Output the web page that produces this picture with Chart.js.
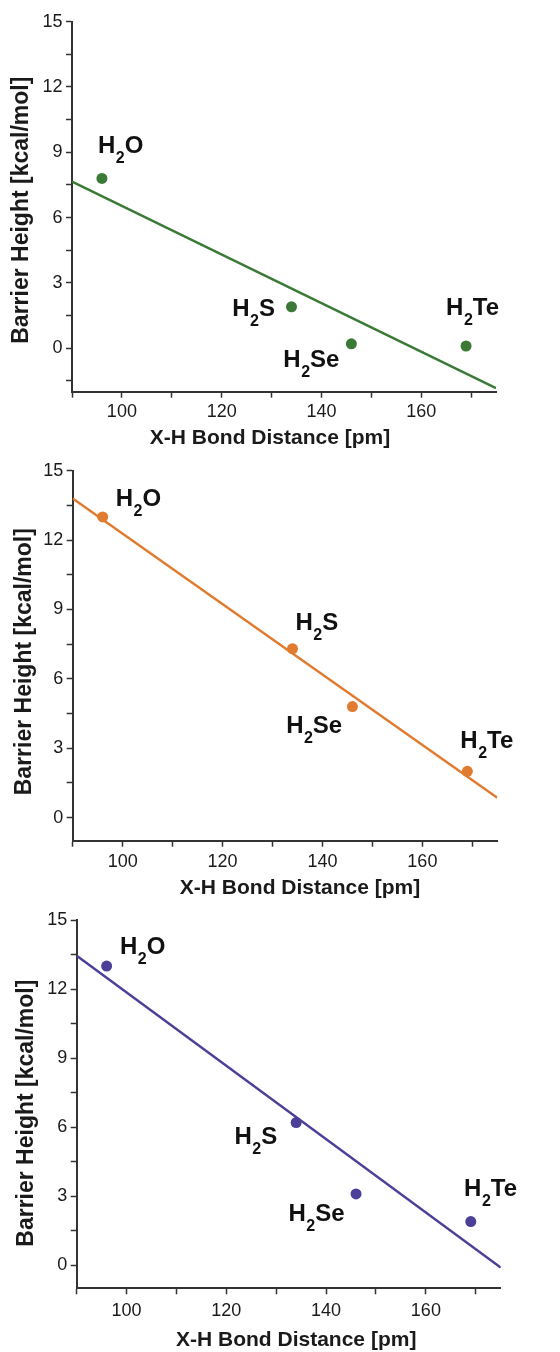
<!DOCTYPE html>
<html>
<head>
<meta charset="utf-8">
<script src="https://cdn.jsdelivr.net/npm/chart.js@4.4.0/dist/chart.umd.min.js"></script>
<style>
  html, body { margin: 0; padding: 0; background: #ffffff; overflow: hidden; }
  .panel { position: absolute; left: 0; width: 560px; }
</style>
</head>
<body>
<div class="panel" style="top:0px;height:450px;"><canvas id="c1"></canvas></div>
<div class="panel" style="top:450px;height:450px;"><canvas id="c2"></canvas></div>
<div class="panel" style="top:900px;height:452px;"><canvas id="c3"></canvas></div>
<script>
// ---------------- data ----------------
const molecules = ['H2O', 'H2S', 'H2Se', 'H2Te'];
const bondDistance = [96, 134, 146, 169];            // X-H bond distance [pm]
const barrierTop = [7.8, 1.9, 0.2, 0.1];             // panel 1 (green)
const barrierMiddle = [13.0, 7.3, 4.8, 2.0];         // panel 2 (orange)
const barrierBottom = [13.0, 6.2, 3.1, 1.9];         // panel 3 (purple)
const fitX = [90, 175];
const fitTop = [7.65, -1.84];
const fitMiddle = [13.8, 0.86];
const fitBottom = [13.45, -0.1];
const xTickValues = [90, 100, 110, 120, 130, 140, 150, 160, 170];
const xTickLabels = [100, 120, 140, 160];
const yTickValuesTop = [-1.5, 0, 1.5, 3, 4.5, 6, 7.5, 9, 10.5, 12, 13.5, 15];
const yTickValuesRest = [0, 1.5, 3, 4.5, 6, 7.5, 9, 10.5, 12, 13.5, 15];
const yTickLabels = [0, 3, 6, 9, 12, 15];
const xTitle = 'X-H Bond Distance [pm]';
const yTitle = 'Barrier Height [kcal/mol]';

// ---------------- styling / layout ----------------
const FONT = "'Liberation Sans', Arial, Helvetica, sans-serif";
const panels = [
  {
    id: 'c1', values: barrierTop, fit: fitTop, color: '#3b7a36',
    yMin: -2, yMax: 15, yTicks: yTickValuesTop,
    pad: { left: 10.5, right: 64, top: 21.7, bottom: 1.5 },
    yWidth: 61.5, xHeight: 56.8, xTickPad: 3.2,
    xTitleShift: -14, yTitleShift: 3.5,
    labelOffsets: [[-4, -25.7], [-59.3, 9], [-68, 22.7], [-20, -30.7]]
  },
  {
    id: 'c2', values: barrierMiddle, fit: fitMiddle, color: '#e07b30',
    yMin: -1, yMax: 15, yTicks: yTickValuesRest,
    pad: { left: 13.5, right: 62.7, top: 20.7, bottom: 1.5 },
    yWidth: 59.2, xHeight: 57.8, xTickPad: 4.2,
    xTitleShift: 15, yTitleShift: 6,
    labelOffsets: [[13, -11], [3, -18.3], [-66.3, 26], [-7, -23.4]]
  },
  {
    id: 'c3', values: barrierBottom, fit: fitBottom, color: '#4b3f98',
    yMin: -1, yMax: 15, yTicks: yTickValuesRest,
    pad: { left: 15.2, right: 59.3, top: 20, bottom: 0.8 },
    yWidth: 61.5, xHeight: 62.9, xTickPad: 5.6,
    xTitleShift: 7.5, yTitleShift: 9,
    labelOffsets: [[13.3, -11.7], [-61.7, 21], [-67.6, 26.7], [-6.7, -26]]
  }
];

function makeLabelPlugin(p) {
  return {
    id: 'molLabels',
    beforeDraw(chart) {
      // shift axis titles slightly off-centre, as in the reference figure
      const shifts = { x: [p.xTitleShift, 0], y: [0, p.yTitleShift] };
      ['x', 'y'].forEach(k => {
        const s = chart.scales[k];
        if (s && !s._titleShifted) {
          const orig = s.drawTitle;
          s.drawTitle = function () {
            const ctx = this.ctx;
            ctx.save();
            ctx.translate(shifts[k][0], shifts[k][1]);
            orig.apply(this, arguments);
            ctx.restore();
          };
          s._titleShifted = true;
        }
      });
    },
    afterDatasetsDraw(chart) {
      const ctx = chart.ctx;
      const xs = chart.scales.x, ys = chart.scales.y;
      ctx.save();
      ctx.fillStyle = '#111111';
      ctx.textBaseline = 'alphabetic';
      ctx.textAlign = 'left';
      molecules.forEach((m, i) => {
        let x = xs.getPixelForValue(bondDistance[i]) + p.labelOffsets[i][0];
        const y = ys.getPixelForValue(p.values[i]) + p.labelOffsets[i][1];
        const head = m.charAt(0), sub = m.charAt(1), rest = m.slice(2);
        ctx.font = 'bold 24px ' + FONT;
        ctx.fillText(head, x, y);
        x += ctx.measureText(head).width + 0.5;
        ctx.font = 'bold 16px ' + FONT;
        ctx.fillText(sub, x, y + 10);
        x += ctx.measureText(sub).width;
        ctx.font = 'bold 24px ' + FONT;
        ctx.fillText(rest, x, y);
      });
      ctx.restore();
    }
  };
}

panels.forEach(p => {
  const canvas = document.getElementById(p.id);
  new Chart(canvas, {
    type: 'scatter',
    data: {
      datasets: [
        {
          label: 'fit',
          data: fitX.map((x, i) => ({ x: x, y: p.fit[i] })),
          showLine: true,
          borderColor: p.color,
          borderWidth: 2.5,
          pointRadius: 0,
          fill: false,
          order: 2
        },
        {
          label: 'data',
          data: bondDistance.map((x, i) => ({ x: x, y: p.values[i] })),
          backgroundColor: p.color,
          borderColor: p.color,
          pointRadius: 5.5,
          pointBorderWidth: 0,
          order: 1
        }
      ]
    },
    options: {
      responsive: true,
      maintainAspectRatio: false,
      animation: false,
      events: [],
      layout: { padding: p.pad },
      plugins: { legend: { display: false }, tooltip: { enabled: false }, title: { display: false } },
      scales: {
        x: {
          type: 'linear',
          min: 90, max: 175,
          afterBuildTicks: s => { s.ticks = xTickValues.map(v => ({ value: v })); },
          afterFit: s => { s.height = p.xHeight; },
          ticks: {
            autoSkip: false, maxRotation: 0,
            padding: p.xTickPad,
            color: '#1a1a1a',
            font: { family: FONT, size: 18 },
            callback: v => xTickLabels.includes(v) ? String(v) : ''
          },
          grid: { drawOnChartArea: false, drawTicks: true, tickLength: 6, tickColor: '#333333', tickWidth: 1.5 },
          border: { display: true, color: '#333333', width: 2 },
          title: {
            display: true, text: xTitle, color: '#1a1a1a',
            font: { family: FONT, size: 21, weight: 'bold', lineHeight: 1 },
            padding: 0
          }
        },
        y: {
          type: 'linear',
          min: p.yMin, max: p.yMax,
          afterBuildTicks: s => { s.ticks = p.yTicks.map(v => ({ value: v })); },
          afterFit: s => { s.width = p.yWidth; },
          ticks: {
            autoSkip: false,
            padding: 3.5,
            color: '#1a1a1a',
            font: { family: FONT, size: 18 },
            callback: v => yTickLabels.includes(v) ? String(v) : ''
          },
          grid: { drawOnChartArea: false, drawTicks: true, tickLength: 6, tickColor: '#333333', tickWidth: 1.5 },
          border: { display: true, color: '#333333', width: 2 },
          title: {
            display: true, text: yTitle, color: '#1a1a1a',
            font: { family: FONT, size: 23, weight: 'bold', lineHeight: 1 },
            padding: 0
          }
        }
      }
    },
    plugins: [makeLabelPlugin(p)]
  });
});
</script>
</body>
</html>
